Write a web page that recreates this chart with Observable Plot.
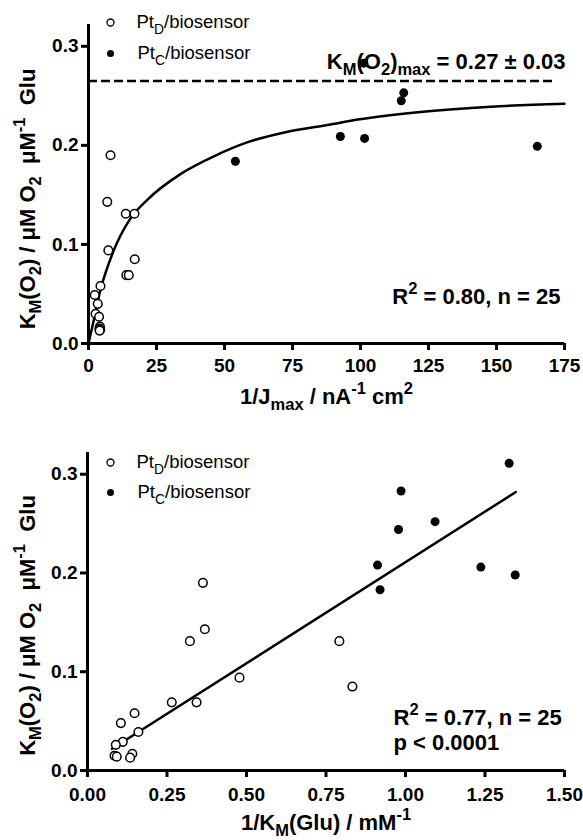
<!DOCTYPE html>
<html>
<head>
<meta charset="utf-8">
<script src="https://cdn.jsdelivr.net/npm/d3@7"></script>
<script src="https://cdn.jsdelivr.net/npm/@observablehq/plot@0.6"></script>
<style>
  body { margin: 0; background: #fff; }
  #chart svg { display: block; }
  #chart text { white-space: pre; }
</style>
</head>
<body>
<div id="chart"></div>
<script>
// ---------- Data ----------
// Top panel: K_M(O2) vs 1/Jmax
const topOpenX = [8.1, 6.9, 13.7, 16.9, 7.3, 17.0, 13.9, 14.8, 4.4, 2.3, 3.4, 2.6, 3.9, 4.2, 4.0, 4.3, 4.1];
const topOpenY = [0.190, 0.143, 0.131, 0.131, 0.094, 0.085, 0.069, 0.069, 0.058, 0.049, 0.040, 0.030, 0.027, 0.017, 0.015, 0.014, 0.013];
const topFilledX = [54.0, 92.6, 101.5, 115.9, 115.0, 165.0, 101.2];
const topFilledY = [0.184, 0.209, 0.207, 0.253, 0.245, 0.199, 0.283];
// fitted hyperbola, points
const topFitX = [0, 1.4, 4.4, 9.3, 15.4, 21.6, 33.8, 46.1, 58.3, 72, 89, 99, 123, 148, 175];
const topFitY = [0, 0.017, 0.054, 0.094, 0.126, 0.145, 0.171, 0.189, 0.203, 0.213, 0.221, 0.226, 0.234, 0.239, 0.242];
const topMaxLevel = [0.265];
const topMaxSpan = [0, 172];
const topXTicks = [0, 25, 50, 75, 100, 125, 150, 175];

// Bottom panel: K_M(O2) vs 1/K_M(Glu)
const botOpenX = [0.363, 0.369, 0.322, 0.792, 0.478, 0.833, 0.265, 0.343, 0.148, 0.105, 0.160, 0.111, 0.089, 0.141, 0.085, 0.092, 0.134];
const botOpenY = [0.190, 0.143, 0.131, 0.131, 0.094, 0.085, 0.069, 0.069, 0.058, 0.048, 0.039, 0.029, 0.026, 0.017, 0.015, 0.014, 0.013];
const botFilledX = [1.326, 0.986, 1.093, 0.978, 0.912, 1.237, 1.345, 0.920];
const botFilledY = [0.311, 0.283, 0.252, 0.244, 0.208, 0.206, 0.198, 0.183];
const botFitX = [0.077, 1.347];
const botFitY = [0.022, 0.282];
const botXTicks = [0, 0.25, 0.5, 0.75, 1.0, 1.25, 1.5];

const yTicks = [0, 0.1, 0.2, 0.3];
const seriesLabels = ["Pt_{D}/biosensor", "Pt_{C}/biosensor"];
const yLabel = "K_{M}(O_{2}) / μM O_{2}  μM^{-1}  Glu";
const topXLabel = "1/J_{max} / nA^{-1} cm^{2}";
const botXLabel = "1/K_{M}(Glu) / mM^{-1}";
const topMaxLabel = "K_{M}(O_{2})_{max} = 0.27 ± 0.03";
const topStats = ["R^{2} = 0.80, n = 25"];
const botStats = ["R^{2} = 0.77, n = 25", "p < 0.0001"];

// ---------- helpers ----------
const pts = (xs, ys) => xs.map((x, i) => ({x, y: ys[i]}));
const FONT = "Liberation Sans, Arial, Helvetica, sans-serif";
const SUB = 0.75;

function rich(svg) {
  const ns = "http://www.w3.org/2000/svg";
  svg.querySelectorAll("text").forEach(t => {
    const s = t.textContent;
    if (!/[_^]\{/.test(s)) return;
    while (t.firstChild) t.removeChild(t.firstChild);
    const re = /([_^])\{([^}]*)\}/g;
    let last = 0, m, back = 0;
    const add = (str, kind) => {
      if (!str) return;
      const ts = document.createElementNS(ns, "tspan");
      if (kind) {
        ts.setAttribute("font-size", (SUB * 100) + "%");
        const shift = kind === "_" ? 0.3 : -0.45; // in parent em
        ts.setAttribute("dy", ((shift - back) / SUB).toFixed(3) + "em");
        back = shift;
      } else if (back) {
        ts.setAttribute("dy", (-back).toFixed(3) + "em");
        back = 0;
      }
      ts.textContent = str;
      t.appendChild(ts);
    };
    while ((m = re.exec(s))) {
      add(s.slice(last, m.index), null);
      add(m[2], m[1]);
      last = re.lastIndex;
    }
    add(s.slice(last), null);
  });
  return svg;
}

function axes(xTicks, xFmt, xPad) {
  return [
    Plot.axisX({ticks: xTicks, tickFormat: xFmt, tickSize: 7, tickPadding: xPad, strokeWidth: 3, fontSize: 19, label: null}),
    Plot.axisY({ticks: yTicks, tickFormat: d3.format(".1f"), tickSize: 7, tickPadding: 3, strokeWidth: 3, fontSize: 19, label: null}),
    Plot.ruleY([0], {strokeWidth: 3}),
    Plot.ruleX([0], {strokeWidth: 3})
  ];
}

function legend(dx, dy0, gap) {
  return [
    Plot.dot([seriesLabels[0]], {frameAnchor: "top-left", dx: dx, dy: dy0, r: 3.5, stroke: "black", strokeWidth: 1.3, fill: "white"}),
    Plot.dot([seriesLabels[1]], {frameAnchor: "top-left", dx: dx, dy: dy0 + gap, r: 3.5, fill: "black", stroke: "none"}),
    Plot.text([seriesLabels[0]], {frameAnchor: "top-left", dx: dx + 26, dy: dy0, text: d => d, textAnchor: "start", lineAnchor: "middle", fontSize: 18.5, fontWeight: "normal"}),
    Plot.text([seriesLabels[1]], {frameAnchor: "top-left", dx: dx + 27, dy: dy0 + gap, text: d => d, textAnchor: "start", lineAnchor: "middle", fontSize: 18.5, fontWeight: "normal"})
  ];
}

// ---------- Top panel ----------
const topPanel = Plot.plot({
  width: 583, height: 418,
  marginLeft: 88, marginRight: 19, marginTop: 24, marginBottom: 75,
  style: {fontFamily: FONT, fontSize: "18px", fontWeight: "bold", color: "black", background: "white"},
  x: {domain: [0, 175]},
  y: {domain: [0, 0.322]},
  marks: [
    ...axes(topXTicks, d => String(d), 8),
    Plot.ruleY(topMaxLevel, {x1: topMaxSpan[0], x2: topMaxSpan[1], strokeWidth: 2.5, strokeDasharray: "9,4"}),
    Plot.line(pts(topFitX, topFitY), {x: "x", y: "y", curve: "monotone-x", strokeWidth: 2.5}),
    Plot.text([topMaxLabel], {frameAnchor: "top-right", dx: 1, dy: 37, text: d => d, textAnchor: "end", lineAnchor: "middle", fontSize: 22}),
    Plot.text(topStats, {frameAnchor: "bottom-right", dx: -4, dy: -47, text: d => d, textAnchor: "end", lineAnchor: "middle", fontSize: 22}),
    Plot.text([topXLabel], {frameAnchor: "bottom", dy: 53, text: d => d, textAnchor: "middle", lineAnchor: "middle", fontSize: 22}),
    Plot.text([yLabel], {frameAnchor: "left", dx: -61, dy: 15, rotate: -90, text: d => d, textAnchor: "middle", lineAnchor: "middle", fontSize: 22}),
    Plot.dot(pts(topOpenX, topOpenY), {x: "x", y: "y", r: 4.3, stroke: "black", strokeWidth: 1.5, fill: "white"}),
    Plot.dot(pts(topFilledX, topFilledY), {x: "x", y: "y", r: 4.5, fill: "black", stroke: "none"}),
    ...legend(22, -2, 31)
  ]
});

// ---------- Bottom panel ----------
const bottomPanel = Plot.plot({
  width: 583, height: 422,
  marginLeft: 87, marginRight: 19, marginTop: 34, marginBottom: 70,
  style: {fontFamily: FONT, fontSize: "18px", fontWeight: "bold", color: "black", background: "white"},
  x: {domain: [0, 1.5]},
  y: {domain: [0, 0.322]},
  marks: [
    ...axes(botXTicks, d3.format(".2f"), 10),
    Plot.line(pts(botFitX, botFitY), {x: "x", y: "y", strokeWidth: 2.5}),
    Plot.text([botStats[0]], {frameAnchor: "bottom-left", dx: 306, dy: -53, text: d => d, textAnchor: "start", lineAnchor: "middle", fontSize: 22}),
    Plot.text([botStats[1]], {frameAnchor: "bottom-left", dx: 306, dy: -28, text: d => d, textAnchor: "start", lineAnchor: "middle", fontSize: 22}),
    Plot.text([botXLabel], {frameAnchor: "bottom", dy: 52, text: d => d, textAnchor: "middle", lineAnchor: "middle", fontSize: 22}),
    Plot.text([yLabel], {frameAnchor: "left", dx: -60, dy: 14, rotate: -90, text: d => d, textAnchor: "middle", lineAnchor: "middle", fontSize: 22}),
    Plot.dot(pts(botOpenX, botOpenY), {x: "x", y: "y", r: 4.3, stroke: "black", strokeWidth: 1.5, fill: "white"}),
    Plot.dot(pts(botFilledX, botFilledY), {x: "x", y: "y", r: 4.5, fill: "black", stroke: "none"}),
    ...legend(23, 10, 30)
  ]
});

const chart = document.getElementById("chart");
chart.appendChild(rich(topPanel));
chart.appendChild(rich(bottomPanel));
</script>
</body>
</html>
